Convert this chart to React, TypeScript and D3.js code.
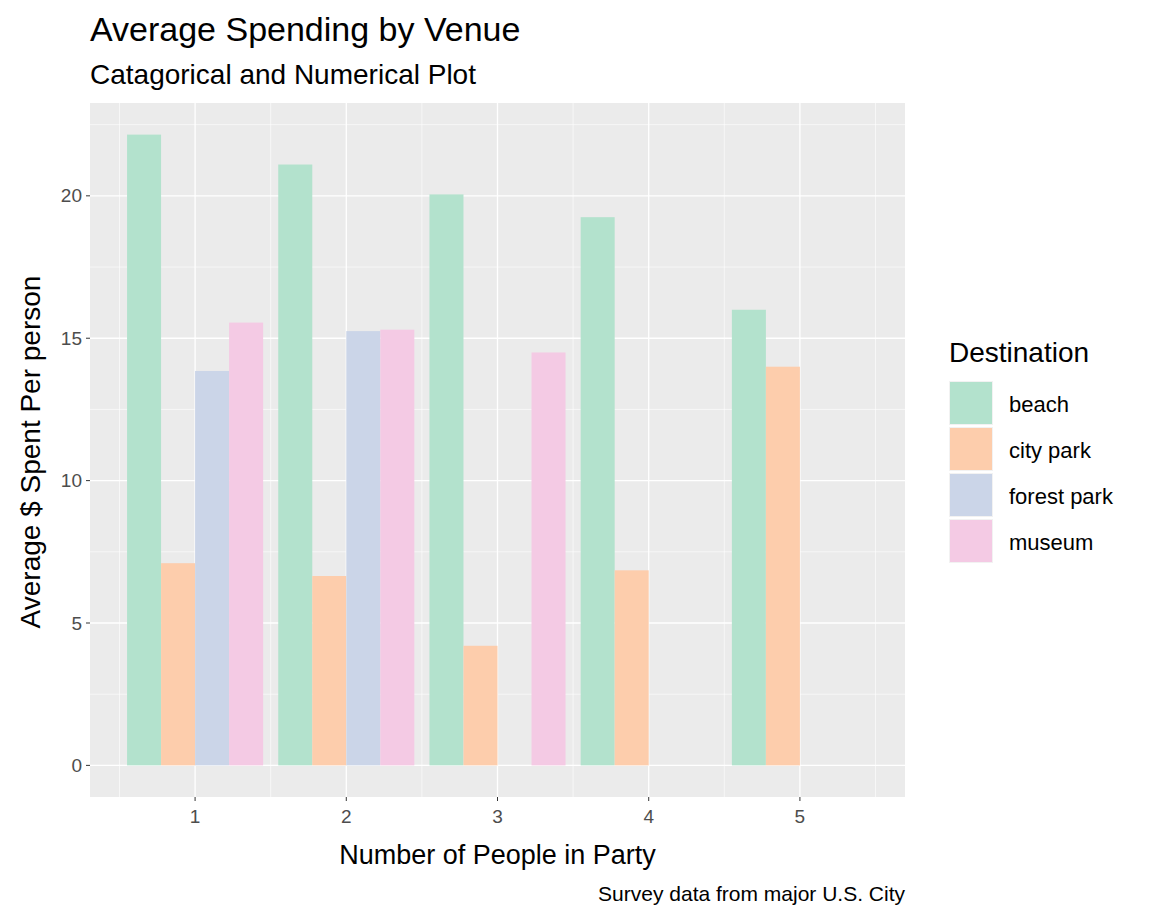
import * as d3 from 'd3'

const parties = [1, 2, 3, 4, 5]
const venues = ['beach', 'city park', 'forest park', 'museum']
const colors = ['#B3E2CD', '#FDCDAC', '#CBD5E8', '#F4CAE4']
const beach = [22.15, 21.1, 20.05, 19.25, 16.0]
const cityPark = [7.1, 6.65, 4.2, 6.85, 14.0]
const forestPark: (number | null)[] = [13.85, 15.25, null, null, null]
const museum: (number | null)[] = [15.55, 15.3, 14.5, null, null]
const series = [beach, cityPark, forestPark, museum]
const yTicks = [0, 5, 10, 15, 20]

export default function App() {
  const W = 1152, H = 921
  const left = 90, right = 905, top = 103, bottom = 797
  const x = d3.scaleLinear().domain([0.305, 5.695]).range([left, right])
  const y = d3.scaleLinear().domain([-1.11, 23.26]).range([bottom, top])
  const slot = d3.scaleBand().domain(venues).range([-0.45, 0.45])
  const font = "'Liberation Sans', Arial, sans-serif"
  const minorX = d3.range(0.5, 6, 1)
  const minorY = d3.range(2.5, 23, 5)
  return (
    <svg width={W} height={H} style={{ position: 'absolute', left: 0, top: 0 }} fontFamily={font}>
      <rect width={W} height={H} fill="#fff" />
      <rect x={left} y={top} width={right - left} height={bottom - top} fill="#EBEBEB" />
      {minorY.map(t => <line key={'my' + t} x1={left} x2={right} y1={y(t)} y2={y(t)} stroke="#fff" strokeWidth={0.6} />)}
      {minorX.map(t => <line key={'mx' + t} y1={top} y2={bottom} x1={x(t)} x2={x(t)} stroke="#fff" strokeWidth={0.6} />)}
      {yTicks.map(t => <line key={'y' + t} x1={left} x2={right} y1={y(t)} y2={y(t)} stroke="#fff" strokeWidth={1.3} />)}
      {parties.map(t => <line key={'x' + t} y1={top} y2={bottom} x1={x(t)} x2={x(t)} stroke="#fff" strokeWidth={1.3} />)}
      {series.map((s, si) => s.map((v, i) => v == null ? null : (
        <rect key={si + '-' + i}
          x={x(parties[i] + slot(venues[si])!)}
          width={x(slot.bandwidth()) - x(0)}
          y={y(v)} height={y(0) - y(v)} fill={colors[si]} />
      )))}
      {yTicks.map(t => (
        <g key={'yl' + t}>
          <line x1={left - 4} x2={left} y1={y(t)} y2={y(t)} stroke="#333" />
          <text x={left - 8} y={y(t)} dy="0.35em" textAnchor="end" fontSize={19} fill="#4D4D4D">{t}</text>
        </g>
      ))}
      {parties.map(t => (
        <g key={'xl' + t}>
          <line y1={bottom} y2={bottom + 4} x1={x(t)} x2={x(t)} stroke="#333" />
          <text x={x(t)} y={bottom + 26} textAnchor="middle" fontSize={19} fill="#4D4D4D">{t}</text>
        </g>
      ))}
      <text x={(left + right) / 2} y={864} textAnchor="middle" fontSize={27}>Number of People in Party</text>
      <text transform={`translate(40,${(top + bottom) / 2 + 2}) rotate(-90)`} textAnchor="middle" fontSize={28}>Average $ Spent Per person</text>
      <text x={90} y={41} fontSize={34}>Average Spending by Venue</text>
      <text x={90} y={84} fontSize={28}>Catagorical and Numerical Plot</text>
      <text x={right} y={901} textAnchor="end" fontSize={21}>Survey data from major U.S. City</text>
      <text x={949} y={362} fontSize={28}>Destination</text>
      {venues.map((v, i) => (
        <g key={v} transform={`translate(949,${381 + i * 46})`}>
          <rect width={44} height={44} fill="#F2F2F2" />
          <rect x={1} y={1} width={42} height={42} fill={colors[i]} />
          <text x={60} y={23} dy="0.35em" fontSize={22}>{v}</text>
        </g>
      ))}
    </svg>
  )
}
